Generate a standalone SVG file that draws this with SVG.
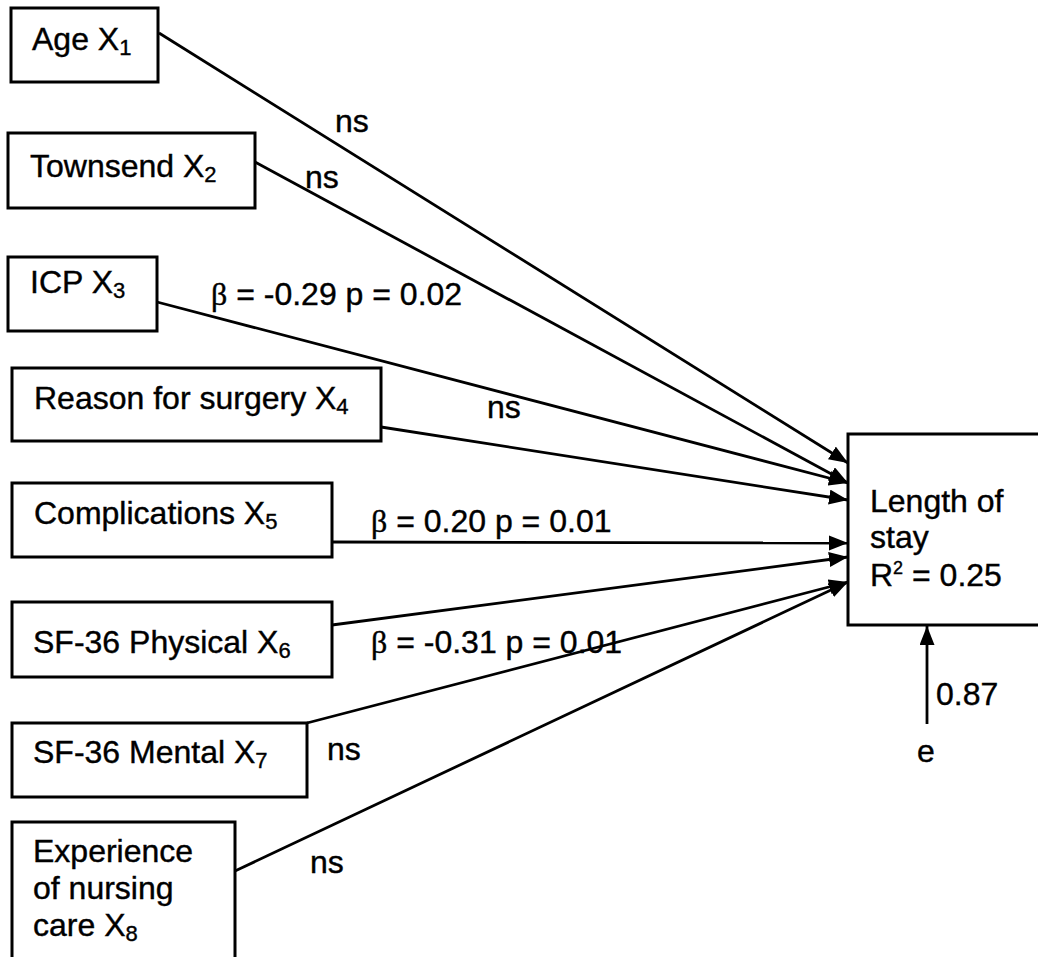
<svg xmlns="http://www.w3.org/2000/svg" width="1038" height="957" viewBox="0 0 1038 957">
  <style>
    .box { fill: #ffffff; stroke: #000000; stroke-width: 3; }
    .lbl { font-family: "Liberation Sans", Arial, sans-serif; font-size: 32px; fill: #000000; stroke: #000000; stroke-width: 0.4; }
    .sub { font-size: 22px; }
    .sup { font-size: 18px; }
    .greek { font-family: "Liberation Serif", "Times New Roman", serif; }
    .edge { fill: none; stroke: #000000; stroke-width: 2.8; marker-end: url(#arrow); }
  </style>
  <defs>
    <marker id="arrow" markerUnits="userSpaceOnUse" markerWidth="20" markerHeight="16" refX="19" refY="7.5" orient="auto">
      <path d="M0,0 L19,7.5 L0,15 z" fill="#000000"/>
    </marker>
  </defs>
  <rect width="1038" height="957" fill="#ffffff"/>

  <!-- paths into Length of stay -->
  <g id="connectors">
    <line class="edge" x1="159" y1="33" x2="848" y2="463"/>
    <line class="edge" x1="255" y1="162" x2="848" y2="483"/>
    <line class="edge" x1="157" y1="302" x2="848" y2="483"/>
    <line class="edge" x1="381" y1="427" x2="848" y2="500"/>
    <line class="edge" x1="332" y1="542" x2="848" y2="543"/>
    <line class="edge" x1="332" y1="625" x2="848" y2="557"/>
    <line class="edge" x1="307" y1="723" x2="848" y2="582"/>
    <line class="edge" x1="235" y1="871" x2="848" y2="582"/>
    <line class="edge" x1="927" y1="724" x2="927" y2="626"/>
  </g>

  <!-- path coefficients -->
  <g id="edge-labels">
    <text class="lbl" x="335" y="132">ns</text>
    <text class="lbl" x="305" y="188">ns</text>
    <text class="lbl" x="211" y="305"><tspan class="greek">β</tspan> = -0.29 p = 0.02</text>
    <text class="lbl" x="487" y="418">ns</text>
    <text class="lbl" x="371" y="532"><tspan class="greek">β</tspan> = 0.20 p = 0.01</text>
    <text class="lbl" x="371" y="653"><tspan class="greek">β</tspan> = -0.31 p = 0.01</text>
    <text class="lbl" x="327" y="760">ns</text>
    <text class="lbl" x="310" y="873">ns</text>
    <text class="lbl" x="936" y="705">0.87</text>
  </g>

  <g id="age">
    <rect class="box" x="11" y="8" width="147" height="74"/>
    <text class="lbl" x="32" y="50">Age X<tspan class="sub" dy="5">1</tspan></text>
  </g>
  <g id="townsend">
    <rect class="box" x="8" y="133" width="247" height="75"/>
    <text class="lbl" x="30" y="177">Townsend X<tspan class="sub" dy="5">2</tspan></text>
  </g>
  <g id="icp">
    <rect class="box" x="8" y="257" width="149" height="74"/>
    <text class="lbl" x="30" y="293">ICP X<tspan class="sub" dy="5">3</tspan></text>
  </g>
  <g id="reason">
    <rect class="box" x="12" y="368" width="369" height="73"/>
    <text class="lbl" x="34" y="409">Reason for surgery X<tspan class="sub" dy="5">4</tspan></text>
  </g>
  <g id="complications">
    <rect class="box" x="12" y="483" width="320" height="74"/>
    <text class="lbl" x="34" y="524">Complications X<tspan class="sub" dy="5">5</tspan></text>
  </g>
  <g id="sf36-physical">
    <rect class="box" x="12" y="602" width="320" height="75"/>
    <text class="lbl" x="33" y="653">SF-36 Physical X<tspan class="sub" dy="5">6</tspan></text>
  </g>
  <g id="sf36-mental">
    <rect class="box" x="12" y="723" width="295" height="74"/>
    <text class="lbl" x="33" y="763">SF-36 Mental X<tspan class="sub" dy="5">7</tspan></text>
  </g>
  <g id="nursing-care">
    <rect class="box" x="12" y="822" width="223" height="150"/>
    <text class="lbl" x="33" y="862">Experience</text>
    <text class="lbl" x="33" y="899">of nursing</text>
    <text class="lbl" x="33" y="936">care X<tspan class="sub" dy="5">8</tspan></text>
  </g>
  <g id="length-of-stay">
    <rect class="box" x="848" y="434" width="200" height="191"/>
    <text class="lbl" x="870" y="512">Length of</text>
    <text class="lbl" x="870" y="548">stay</text>
    <text class="lbl" x="870" y="586">R<tspan class="sup" dy="-12">2</tspan><tspan dy="12"> = 0.25</tspan></text>
  </g>
  <g id="error">
    <text class="lbl" x="926" y="762" text-anchor="middle">e</text>
  </g>
</svg>
